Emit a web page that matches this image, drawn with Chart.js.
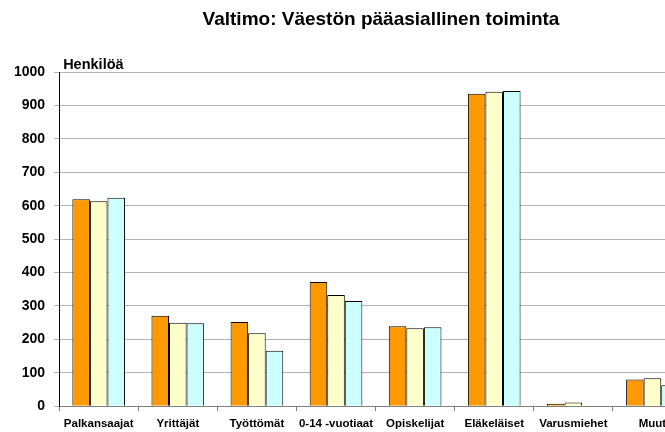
<!DOCTYPE html>
<html>
<head>
<meta charset="utf-8">
<script src="https://cdn.jsdelivr.net/npm/chart.js@4/dist/chart.umd.min.js"></script>
<style>
    html, body { margin: 0; padding: 0; background: #fff; overflow: hidden; }
    #wrap { position: relative; width: 762px; height: 437px; }
</style>
</head>
<body>
<div id="wrap"><canvas id="chart"></canvas></div>
<script>
// Chart Data
const categories = ['Palkansaajat', 'Yrittäjät', 'Työttömät', '0-14 -vuotiaat', 'Opiskelijat', 'Eläkeläiset', 'Varusmiehet', 'Muut'];
const series1 = [619, 271, 252, 372, 239, 935, 7, 80];
const series2 = [613, 250, 218, 333, 233, 941, 11, 84];
const series3 = [624, 248, 166, 315, 236, 943, 1, 63];
const yTicks = [0, 100, 200, 300, 400, 500, 600, 700, 800, 900, 1000];

const TITLE = 'Valtimo: Väestön pääasiallinen toiminta';
const FONT = "'Liberation Sans', Arial, sans-serif";

// title (centred over the full original picture) and y-axis caption
const captions = {
    id: 'captions',
    afterDraw(chart) {
        const ctx = chart.ctx;
        ctx.save();
        ctx.fillStyle = '#000';
        ctx.textBaseline = 'alphabetic';
        ctx.font = 'bold 19px ' + FONT;
        ctx.textAlign = 'center';
        ctx.fillText(TITLE, 381, 25);
        ctx.font = 'bold 14.5px ' + FONT;
        ctx.textAlign = 'left';
        ctx.fillText('Henkilöä', chart.chartArea.left + 4, chart.chartArea.top - 3);
        ctx.restore();
    }
};

new Chart(document.getElementById('chart'), {
    type: 'bar',
    data: {
        labels: categories,
        datasets: [
            { label: 'Sarja 1', data: series1, backgroundColor: '#FF9900', borderColor: '#000', borderWidth: 1 },
            { label: 'Sarja 2', data: series2, backgroundColor: '#FFFFCC', borderColor: '#000', borderWidth: 1 },
            { label: 'Sarja 3', data: series3, backgroundColor: '#CCFFFF', borderColor: '#000', borderWidth: 1 }
        ]
    },
    options: {
        responsive: true,
        maintainAspectRatio: false,
        animation: false,
        categoryPercentage: 0.666,
        barPercentage: 1.0,
        layout: { padding: { left: 5, right: 70, top: 72, bottom: 0 } },
        plugins: {
            legend: { display: false },
            tooltip: { enabled: false },
            title: { display: false }
        },
        scales: {
            x: {
                grid: { display: true, drawOnChartArea: false, offset: true, tickLength: 5, color: '#808080' },
                border: { color: '#808080' },
                ticks: { color: '#000', font: { family: FONT, size: 11.5, weight: 'bold' }, padding: 6, maxRotation: 0, autoSkip: false }
            },
            y: {
                min: 0,
                max: 1000,
                afterBuildTicks: axis => { axis.ticks = yTicks.map(v => ({ value: v })); },
                grid: { color: '#b4b4b4', tickLength: 5 },
                border: { color: '#000' },
                ticks: { color: '#000', font: { family: FONT, size: 14, weight: 'bold' }, padding: 9, callback: v => String(v) }
            }
        }
    },
    plugins: [captions]
});
</script>
</body>
</html>
